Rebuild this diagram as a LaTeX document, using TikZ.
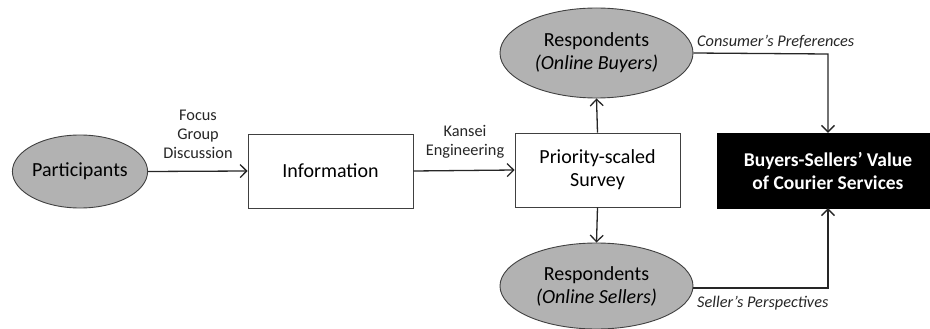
\documentclass[tikz,border=0pt]{standalone}
\usepackage{fontspec}
\setmainfont{Carlito}
\usetikzlibrary{shapes.geometric,arrows.meta}
\begin{document}
\begin{tikzpicture}[x=1pt,y=-1pt,
  every node/.style={font=\fontsize{20}{23}\selectfont},
  oval/.style={ellipse,draw=black!75,line width=0.9pt,fill=black!30,inner sep=0pt,align=center},
  plainbox/.style={rectangle,draw=black!75,line width=0.9pt,fill=white,inner sep=0pt,align=center},
  darkbox/.style={rectangle,draw=black,fill=black,text=white,inner sep=0pt,align=center},
  lbl/.style={font=\fontsize{16.3}{19}\selectfont,align=center,inner sep=0pt,text=black!85},
  ilbl/.style={font=\fontsize{16.3}{19}\selectfont\itshape,inner sep=0pt,anchor=west,text=black!85},
  conn/.style={line width=1.3pt,draw=black!85},
  arr/.style={conn,-{Straight Barb[length=6.5pt,width=13pt,line width=1.3pt]}}
]
\useasboundingbox (0,0) rectangle (930,329);
\node[oval,minimum width=134,minimum height=73] (part) at (80,171.5) {Participants};
\node[plainbox,minimum width=165,minimum height=74] (info) at (330.5,171) {Information};
\node[plainbox,minimum width=165,minimum height=74] (surv) at (597.5,170) {Priority-scaled\\Survey};
\node[oval,minimum width=193,minimum height=90] (buy) at (596.5,53) {Respondents\\\textit{(Online Buyers)}};
\node[oval,minimum width=193,minimum height=86] (sell) at (596.5,286) {Respondents\\\textit{(Online Sellers)}};
\node[darkbox,minimum width=213,minimum height=75] (val) at (823.5,170.5) {};
\node[text=white,align=center,font=\fontsize{19.5}{23}\selectfont\bfseries] (valtxt) at (828,170.5) {Buyers-Sellers' Value\\of Courier Services};

\coordinate (ctop) at (828,54);
\coordinate (cbot) at (828,288);

\draw[arr] (part.east) -- (info.west);
\draw[arr] (info.east) -- (surv.west);
\draw[arr] (surv.north) -- (buy.south);
\draw[arr] (surv.south) -- (sell.north);
\draw[arr] (buy.east) -- (ctop) -- (ctop |- val.north);
\draw[arr] (sell.east |- cbot) -- (cbot) -- (cbot |- val.south);

\node[lbl] (fgd) at (198,134) {Focus\\Group\\Discussion};
\node[lbl] (ke) at (465,142) {Kansei\\Engineering};
\node[ilbl] (cp) at (697,42) {Consumer's Preferences};
\node[ilbl] (sp) at (697,303) {Seller's Perspectives};
\end{tikzpicture}
\end{document}
